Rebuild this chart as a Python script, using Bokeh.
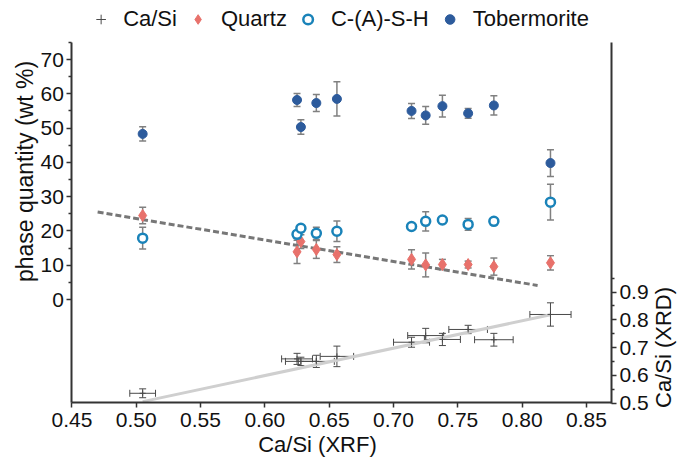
import math
from bokeh.plotting import figure
from bokeh.models import (Range1d, LinearAxis, FixedTicker, Whisker, ColumnDataSource,
                          Legend, LegendItem, TeeHead, Label, PrintfTickFormatter)
from bokeh.embed import file_html
from bokeh.resources import INLINE

# ---- data ----
ca_si_xrf = [0.505, 0.625, 0.628, 0.640, 0.656, 0.714, 0.725, 0.738, 0.758, 0.778, 0.822]
ca_si_xrf_err = [0.010, 0.012, 0.012, 0.014, 0.013, 0.014, 0.014, 0.014, 0.015, 0.015, 0.016]
ca_si_xrd = [0.535, 0.659, 0.650, 0.650, 0.668, 0.719, 0.743, 0.729, 0.765, 0.728, 0.819]
ca_si_xrd_err = [0.016, 0.020, 0.015, 0.022, 0.037, 0.018, 0.026, 0.022, 0.015, 0.023, 0.042]

tobermorite = [48.3, 58.2, 50.3, 57.3, 58.5, 55.0, 53.7, 56.4, 54.3, 56.6, 39.8]
tobermorite_err = [2.1, 1.9, 2.1, 2.5, 5.0, 2.2, 2.6, 3.2, 1.4, 2.8, 3.9]
csh = [17.9, 19.0, 20.8, 19.3, 19.9, 21.3, 22.8, 23.2, 21.9, 22.8, 28.4]
csh_err = [3.2, 1.0, 1.0, 1.8, 3.0, 0.8, 2.8, 0.8, 1.7, 0.8, 5.2]
quartz = [24.5, 13.9, 16.9, 14.6, 13.1, 11.7, 10.1, 10.2, 10.2, 9.6, 10.7]
quartz_err = [2.4, 3.4, 2.0, 2.6, 2.3, 2.8, 3.5, 1.5, 1.0, 2.5, 2.1]

quartz_trend_x = [0.470, 0.812]
quartz_trend_y = [25.5, 4.1]
ca_si_fit_x = [0.505, 0.822]
ca_si_fit_y = [0.505, 0.818]

x_ticks = [0.45, 0.50, 0.55, 0.60, 0.65, 0.70, 0.75, 0.80, 0.85]
phase_ticks = [0, 10, 20, 30, 40, 50, 60, 70]
phase_minor = [5, 15, 25, 35, 45, 55, 65, 75]
xrd_ticks = [0.5, 0.6, 0.7, 0.8, 0.9]
xrd_minor = [0.55, 0.65, 0.75, 0.85, 0.95]

# axis extents (where the drawn axis lines start and end)
x_lo, x_hi = 0.45, 0.8694
phase_lo, phase_hi = -30, 75
xrd_lo, xrd_hi = 0.5, 1.8

FONT = "Liberation Sans"
TOB_C = "#2D5B9C"
CSH_C = "#1A83B9"
QZ_C = "#E8716B"
ERR_C = "#808080"
CROSS_C = "#4a4a4a"

# the frame fills the whole canvas; axes are pinned at fixed locations inside it
p = figure(width=677, height=458, x_range=Range1d(0.39450, 0.92074),
           y_range=Range1d(-46.37, 87.21),
           output_backend="svg", toolbar_location=None,
           min_border_left=0, min_border_right=0, min_border_top=0, min_border_bottom=0)
p.extra_y_ranges = {"xrd": Range1d(0.30, 1.9505)}
p.grid.visible = False
p.outline_line_color = None
p.background_fill_color = "white"
p.border_fill_color = "white"

def style_axis(ax):
    ax.axis_line_width = 2
    ax.axis_line_color = "#333333"
    ax.major_tick_line_color = "#333333"
    ax.minor_tick_line_color = "#333333"
    ax.major_tick_line_width = 1.5
    ax.minor_tick_line_width = 1.5
    ax.major_tick_out = 5
    ax.major_tick_in = 0
    ax.minor_tick_out = 3
    ax.minor_tick_in = 0
    ax.major_label_text_font = FONT
    ax.major_label_text_font_size = "21px"
    ax.major_label_text_color = "#111111"
    ax.major_label_standoff = 3

xa = p.xaxis[0]
xa.ticker = FixedTicker(ticks=x_ticks, minor_ticks=[])
xa.formatter = PrintfTickFormatter(format="%.2f")
xa.bounds = (x_lo, x_hi)
xa.fixed_location = phase_lo
style_axis(xa)
xa.major_label_standoff = 6

ya = p.yaxis[0]
ya.ticker = FixedTicker(ticks=phase_ticks, minor_ticks=phase_minor)
ya.bounds = (phase_lo, phase_hi)
ya.fixed_location = x_lo
style_axis(ya)

ra = LinearAxis(y_range_name="xrd")
ra.ticker = FixedTicker(ticks=xrd_ticks, minor_ticks=xrd_minor)
ra.formatter = PrintfTickFormatter(format="%.1f")
ra.bounds = (xrd_lo, xrd_hi)
ra.fixed_location = x_hi
style_axis(ra)
p.add_layout(ra, "right")

# ---- axis titles ----
p.add_layout(Label(x=0.41316, y=37.33, text="phase quantity (wt %)", angle=math.pi / 2,
                   text_align="center", text_baseline="middle",
                   text_font=FONT, text_font_size="23px", text_color="#111111"))
p.add_layout(Label(x=0.9100, y=0.70, y_range_name="xrd", text="Ca/Si (XRD)",
                   angle=math.pi / 2, text_align="center", text_baseline="middle",
                   text_font=FONT, text_font_size="22px", text_color="#111111"))
p.add_layout(Label(x=0.6409, y=-42.2, text="Ca/Si (XRF)",
                   text_align="center", text_baseline="middle",
                   text_font=FONT, text_font_size="22px", text_color="#111111"))

# ---- trend lines ----
p.line(ca_si_fit_x, ca_si_fit_y, y_range_name="xrd", line_color="#cfcfcf", line_width=3)
p.line(quartz_trend_x, quartz_trend_y, line_color="#777777", line_width=3, line_dash="6 3")

# ---- Ca/Si crosses ----
src_ca = ColumnDataSource(dict(
    x=ca_si_xrf, y=ca_si_xrd,
    xl=[a - b for a, b in zip(ca_si_xrf, ca_si_xrf_err)],
    xu=[a + b for a, b in zip(ca_si_xrf, ca_si_xrf_err)],
    yl=[a - b for a, b in zip(ca_si_xrd, ca_si_xrd_err)],
    yu=[a + b for a, b in zip(ca_si_xrd, ca_si_xrd_err)],
))
for dim, base, lo, hi in [("width", "y", "xl", "xu"), ("height", "x", "yl", "yu")]:
    w = Whisker(source=src_ca, base=base, lower=lo, upper=hi, dimension=dim,
                y_range_name="xrd", line_color=CROSS_C, line_width=1,
                upper_head=TeeHead(size=7, line_color=CROSS_C, line_width=1),
                lower_head=TeeHead(size=7, line_color=CROSS_C, line_width=1))
    p.add_layout(w)
r_ca = p.scatter("x", "y", source=src_ca, y_range_name="xrd", marker="cross", size=6,
                 line_color=CROSS_C, line_width=1)

# ---- phase quantities ----
def phase(vals, errs):
    return ColumnDataSource(dict(
        x=ca_si_xrf, y=vals,
        lo=[a - b for a, b in zip(vals, errs)],
        hi=[a + b for a, b in zip(vals, errs)]))

renderers = {}
for name, vals, errs in [("qz", quartz, quartz_err), ("csh", csh, csh_err), ("tob", tobermorite, tobermorite_err)]:
    s = phase(vals, errs)
    p.add_layout(Whisker(source=s, base="x", lower="lo", upper="hi", dimension="height",
                         line_color=ERR_C, line_width=1.5,
                         upper_head=TeeHead(size=7, line_color=ERR_C, line_width=1.5),
                         lower_head=TeeHead(size=7, line_color=ERR_C, line_width=1.5)))
    if name == "qz":
        r = p.scatter("x", "y", source=s, marker="diamond", size=12, fill_color=QZ_C, line_color=QZ_C)
    elif name == "csh":
        r = p.scatter("x", "y", source=s, marker="circle", size=9, fill_color="white",
                      line_color=CSH_C, line_width=2.5)
    else:
        r = p.scatter("x", "y", source=s, marker="circle", size=9, fill_color=TOB_C, line_color=TOB_C)
    renderers[name] = r

# ---- legend ----
legend = Legend(items=[
    LegendItem(label="Ca/Si", renderers=[r_ca]),
    LegendItem(label="Quartz", renderers=[renderers["qz"]]),
    LegendItem(label="C-(A)-S-H", renderers=[renderers["csh"]]),
    LegendItem(label="Tobermorite", renderers=[renderers["tob"]]),
], orientation="horizontal", location="top_center",
   label_text_font=FONT, label_text_font_size="22px", label_text_color="#111111",
   border_line_alpha=0, background_fill_alpha=0, glyph_width=24, glyph_height=24,
   label_standoff=11, spacing=9, padding=1, margin=5)
p.add_layout(legend)

open("out.html", "w").write(file_html(p, INLINE))
